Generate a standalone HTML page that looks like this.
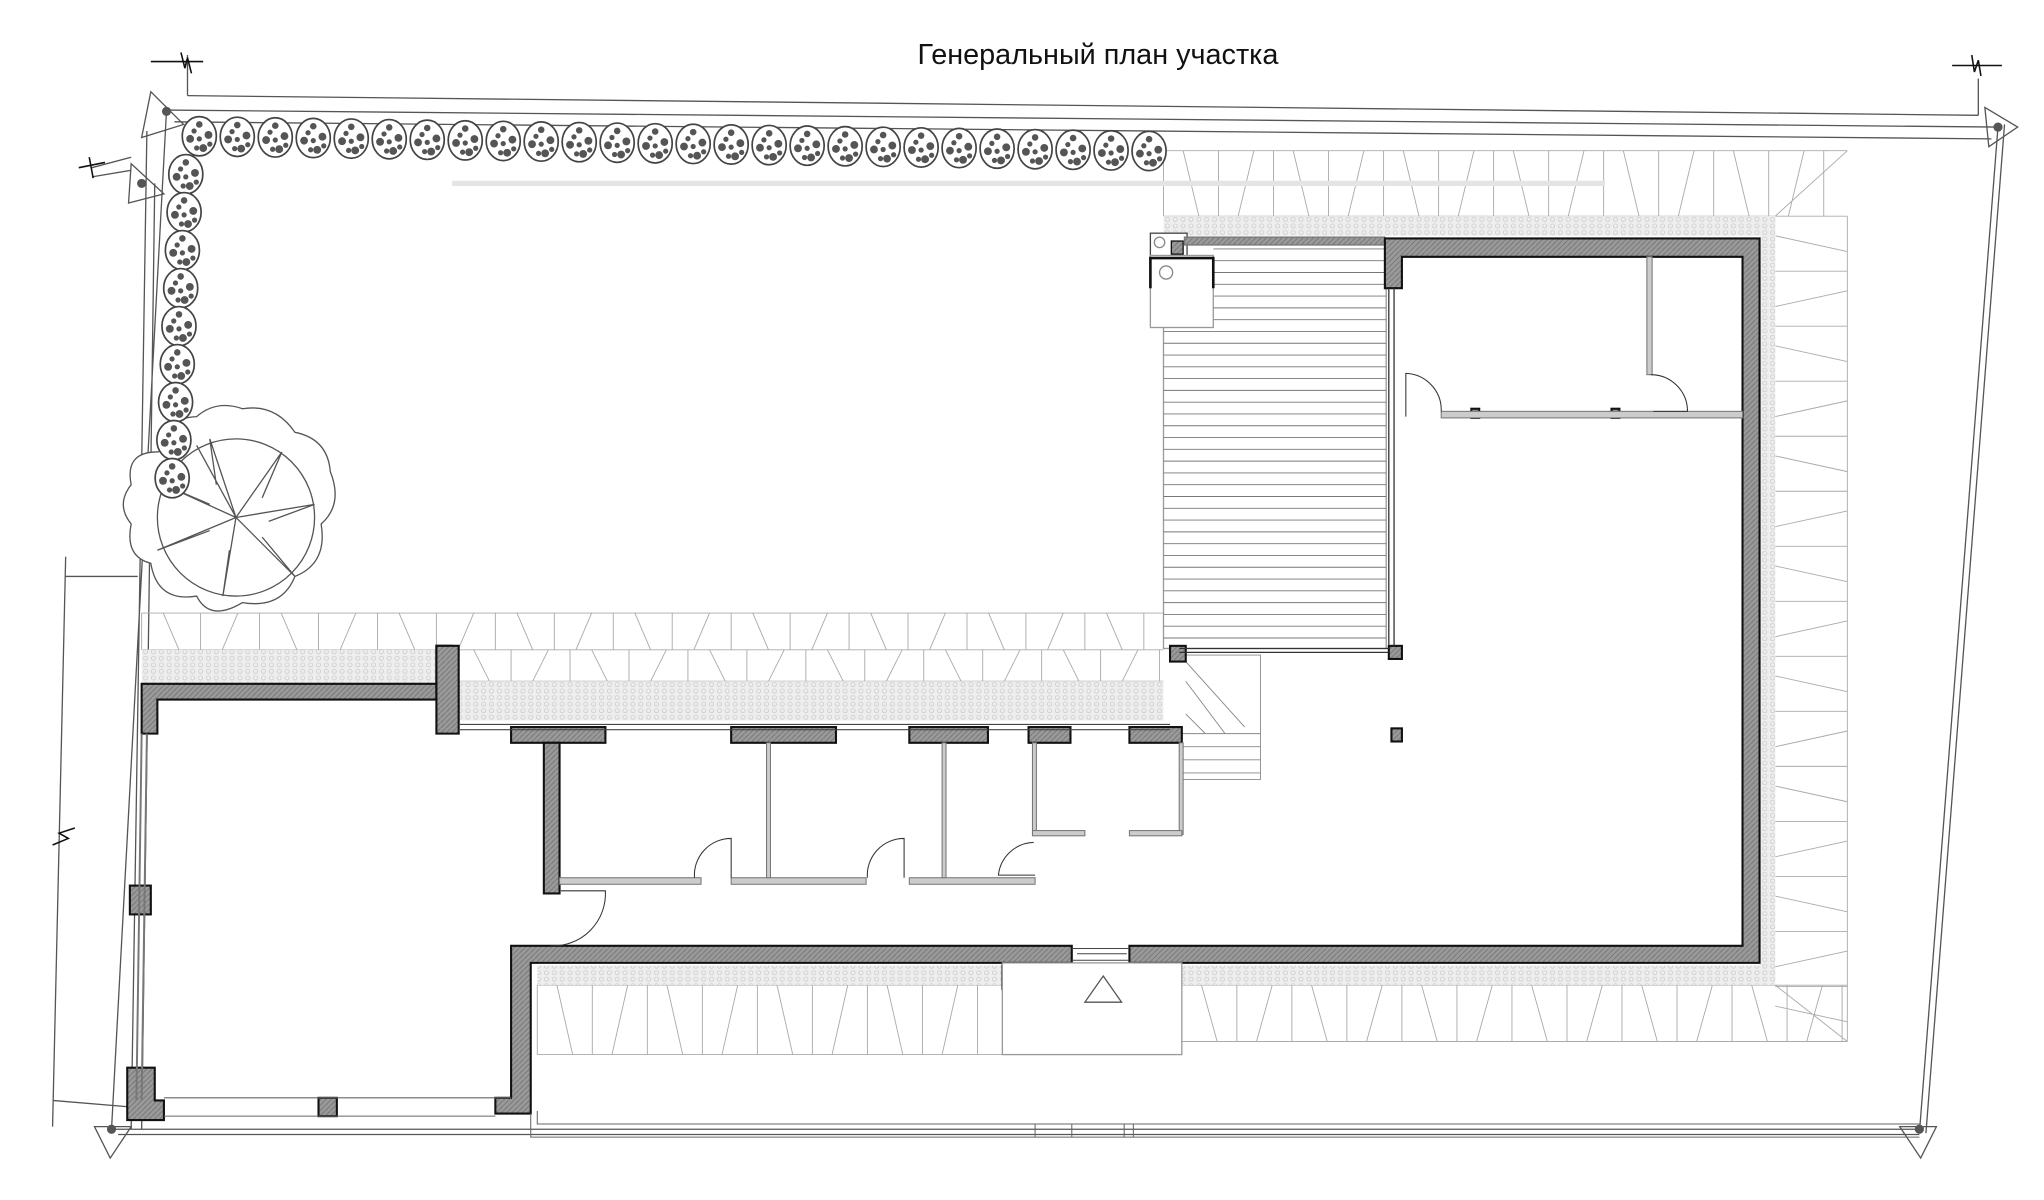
<!DOCTYPE html>
<html><head><meta charset="utf-8"><style>
html,body{margin:0;padding:0;background:#fff;width:2044px;height:1200px;overflow:hidden}
svg{display:block}
</style></head><body>
<svg id="s" width="2044" height="1200" viewBox="0 0 1560 916" xmlns="http://www.w3.org/2000/svg" fill="none" stroke="#444" stroke-width="1">
<defs>
<pattern id="grv" width="6" height="5" patternUnits="userSpaceOnUse"><rect width="6" height="5" fill="#eee" stroke="none"/><circle cx="3" cy="2.5" r="1.6" stroke="#ccc" stroke-width="0.6"/></pattern>
<pattern id="wl" width="4" height="4" patternUnits="userSpaceOnUse"><rect width="4" height="4" fill="#9a9a9a" stroke="none"/><path d="M0 4L4 0" stroke="#777" stroke-width="0.8"/></pattern>
</defs>
<text x="838" y="49" font-family="Liberation Sans, sans-serif" font-size="22" fill="#111" stroke="none" text-anchor="middle">Генеральный план участка</text>

<g stroke="#555">
<path d="M143 73 L1510 88 M127 84 L1525 97 M133 93 L1520 106"/>
<path d="M143 42 L143 73 M1510 60 L1510 88"/>
<path d="M127 84 L85 862 M112 100 L100 862 M118 140 L108 862"/>
<path d="M1525 97 L1465 865 M1530 95 L1470 865"/>
<path d="M85 862 L1465 862 M90 866 L1465 866"/>
<path d="M115 70 L140 95 L108 105 Z"/>
<path d="M100 125 L125 148 L98 155 Z"/>
<path d="M72 860 L100 860 L84 884 Z"/>
<path d="M1450 860 L1478 860 L1466 884 Z"/>
<path d="M1515 82 L1540 97 L1518 112 Z"/>
<circle cx="127" cy="85" r="3" fill="#555"/><circle cx="108" cy="140" r="3" fill="#555"/><circle cx="85" cy="862" r="3" fill="#555"/><circle cx="1465" cy="862" r="3" fill="#555"/><circle cx="1525" cy="97" r="3" fill="#555"/>
<path d="M100 120 L70 128 M100 130 L70 135"/>
<path d="M50 425 L40 860 M50 440 L105 440 M40 840 L100 845"/>
</g>
<g stroke="#111" stroke-width="1.2">
<path d="M115 47 L155 47 M138 40 L141 52 L143 44 L146 56"/>
<path d="M1490 50 L1528 50 M1505 42 L1507 55 L1510 46 L1512 58"/>
<path d="M60 128 L80 124 M68 120 L71 136"/>
<path d="M40 645 L52 640 L45 636 L57 632"/>
</g>

<g id="hatch" stroke="#aaa" stroke-width="0.7"></g>
<g stroke="none" fill="url(#grv)">
<rect x="888" y="165" width="467" height="15"/>
<rect x="1343" y="165" width="12" height="585"/>
<rect x="108" y="496" width="225" height="26"/>
<rect x="345" y="520" width="543" height="30"/>
<rect x="410" y="737" width="355" height="15"/>
<rect x="902" y="737" width="453" height="15"/>
</g>
<rect x="345" y="138" width="880" height="4" fill="#e4e4e4" stroke="none"/>

<rect x="888" y="185" width="170" height="310" fill="#fff" stroke="#999"/>
<g id="deck" stroke="#777" stroke-width="0.7"></g>
<rect x="878" y="178" width="28" height="18" fill="#fff" stroke="#444"/>
<circle cx="885" cy="185" r="4" stroke="#888"/>
<rect x="878" y="195" width="48" height="55" fill="#fff" stroke="#999"/>
<path d="M878 220 L878 197 L926 197 L926 220" stroke="#111" stroke-width="2"/>
<circle cx="890" cy="208" r="5" stroke="#888"/>
<rect x="894" y="184" width="9" height="10" fill="url(#wl)" stroke="#111"/>
<rect x="904" y="181" width="153" height="6" fill="url(#wl)" stroke="#777"/>

<g stroke="#888" stroke-width="0.7">
<path d="M902 500 L962 500 L962 595 L902 595"/>
<path d="M905 505 L950 555 M905 520 L935 560 M905 545 L920 560 M902 560 L962 560 M902 570 L962 570 M902 580 L962 580 M902 590 L962 590"/>
</g>

<g fill="url(#wl)" stroke="#111" stroke-width="1.6">
<path d="M1057 182 L1343 182 L1343 735 L862 735 L862 722 L1330 722 L1330 196 L1070 196 L1070 220 L1057 220 Z"/>
<path d="M108 522 L345 522 L345 493 L333 493 L333 534 L120 534 L120 560 L108 560 Z"/>
<path d="M333 493 L350 493 L350 560 L333 560 Z"/>
<path d="M390 722 L818 722 L818 735 L405 735 L405 850 L378 850 L378 838 L390 838 Z"/>
<path d="M108 815 L118 815 L118 840 L125 840 L125 855 L97 855 L97 815 Z"/>
<rect x="99" y="676" width="16" height="22"/>
<rect x="243" y="838" width="14" height="14"/>
<rect x="390" y="555" width="72" height="12"/>
<rect x="415" y="567" width="12" height="115"/>
<rect x="558" y="555" width="80" height="12"/>
<rect x="694" y="555" width="60" height="12"/>
<rect x="785" y="555" width="32" height="12"/>
<rect x="862" y="555" width="40" height="12"/>
<rect x="893" y="493" width="12" height="12"/>
<rect x="1060" y="493" width="10" height="10"/>
<rect x="1062" y="556" width="8" height="10"/>
<rect x="1123" y="312" width="6" height="7"/>
<rect x="1230" y="312" width="6" height="7"/>
<rect x="765" y="737" width="20" height="18"/>
<rect x="862" y="737" width="20" height="10"/>
</g>
<path d="M108 560 L104 840 M112 560 L108 840" stroke="#777" stroke-width="1.5"/>
<path d="M1064 220 L1064 493 M1060 220 L1060 493" stroke="#333"/>
<path d="M900 495 L1060 495 M900 498 L1060 498" stroke="#333"/>
<path d="M350 553 L893 553 M350 557 L893 557" stroke="#444" stroke-width="0.8"/>
<path d="M818 724 L862 724 M818 733 L862 733 M822 728 L860 728" stroke="#444" stroke-width="0.8"/>
<path d="M125 838 L390 838 M125 852 L378 852" stroke="#666" stroke-width="0.8"/>
<path d="M405 850 L405 868 L1465 868 M410 848 L410 858 L1465 858 M790 858 L790 868 M818 858 L818 868 M858 858 L858 868 M865 858 L865 868" stroke="#666" stroke-width="0.8"/>

<g fill="#ccc" stroke="#777" stroke-width="0.8">
<rect x="1100" y="314" width="230" height="5"/>
<rect x="1257" y="196" width="4" height="90"/>
<rect x="427" y="670" width="108" height="5"/>
<rect x="558" y="670" width="103" height="5"/>
<rect x="694" y="670" width="96" height="5"/>
<rect x="585" y="567" width="3" height="103"/>
<rect x="719" y="567" width="3" height="103"/>
<rect x="788" y="567" width="3" height="70"/>
<rect x="900" y="567" width="3" height="70"/>
<rect x="788" y="634" width="40" height="4"/>
<rect x="862" y="634" width="40" height="4"/>
</g>
<g stroke="#333" stroke-width="0.8">
<path d="M1073 318 L1073 285 A28 28 0 0 1 1100 314"/>
<path d="M1260 286 A28 28 0 0 1 1288 314 L1262 314"/>
<path d="M558 670 L558 640 A28 28 0 0 0 530 670"/>
<path d="M690 670 L690 640 A28 28 0 0 0 662 670"/>
<path d="M789 643 A28 28 0 0 0 762 668 L790 668"/>
<path d="M428 680 L462 680 A40 40 0 0 1 420 722"/>
</g>

<rect x="765" y="735" width="137" height="70" fill="#fff" stroke="#999"/>
<path d="M842 745 L856 765 L828 765 Z" stroke="#555"/>

<g stroke="#555" stroke-width="1">
<path d="M140 340 Q120 320 150 318 Q165 305 185 312 Q210 308 225 330 Q250 335 252 360 Q262 385 245 400 Q250 430 225 440 Q215 465 185 460 Q160 475 150 455 Q120 460 115 430 Q95 425 100 400 Q88 385 100 370 Q95 345 120 345 Z" fill="#fff"/>
<circle cx="180" cy="395" r="60"/>
<path d="M180 395 L150 340 M180 395 L215 345 M180 395 L240 385 M180 395 L225 440 M180 395 L170 455 M180 395 L120 420 M180 395 L125 370 M180 395 L160 335 M160 335 L165 370 M215 345 L200 380 M240 385 L205 398 M225 440 L200 410 M120 420 L160 405 M170 455 L175 420 M125 370 L160 385"/>
</g>
<g id="trees" stroke="#444" stroke-width="1.3"></g>
</svg>
<script>
var NS="http://www.w3.org/2000/svg";
function el(p,t,a){var e=document.createElementNS(NS,t);for(var k in a)e.setAttribute(k,a[k]);p.appendChild(e);return e;}
var h=document.getElementById('hatch'),d='';
function hz(x0,x1,y0,y1,step){for(var x=x0,i=0;x<x1;x+=step,i++){d+='M'+x+' '+y0+'L'+x+' '+y1;var o=i%2?12:-12;var m=x+step/2;if(m+6<x1)d+='M'+(m+o/2)+' '+y0+'L'+(m-o/2)+' '+y1;}d+='M'+x0+' '+y0+'L'+x1+' '+y0+'M'+x0+' '+y1+'L'+x1+' '+y1;}
function vz(x0,x1,y0,y1,step){for(var y=y0,i=0;y<y1;y+=step,i++){d+='M'+x0+' '+y+'L'+x1+' '+y;var o=i%2?12:-12;var m=y+step/2;if(m+6<y1)d+='M'+x0+' '+(m+o/2)+'L'+x1+' '+(m-o/2);}d+='M'+x1+' '+y0+'L'+x1+' '+y1;}
hz(888,1410,115,165,42);vz(1355,1410,165,795,42);hz(410,765,752,805,42);hz(902,1410,752,795,42);hz(108,888,468,496,45);hz(345,888,496,520,45);
d+='M1355 165L1410 115M1355 752L1410 795';
el(h,'path',{d:d});
var dk='';for(var y=190;y<495;y+=9)dk+='M'+(y<250?926:888)+' '+y+'L1058 '+y;el(document.getElementById('deck'),'path',{d:dk});
var t=document.getElementById('trees');
function tree(cx,cy){el(t,'ellipse',{cx:cx,cy:cy,rx:13,ry:15,fill:'#fff'});
[[0,-9,2.5],[-7,2,3],[7,-1,3],[0,2,2],[3,9,3],[-4,-4,2],[-2,9,2],[8,6,2]].forEach(function(p){el(t,'circle',{cx:cx+p[0],cy:cy+p[1],r:p[2],fill:'#555',stroke:'none'});});}
for(var i=0;i<26;i++)tree(152+i*29,104+i*0.45);
for(var j=1;j<10;j++)tree(143-j*1.3,104+j*29);
</script>
</body></html>
